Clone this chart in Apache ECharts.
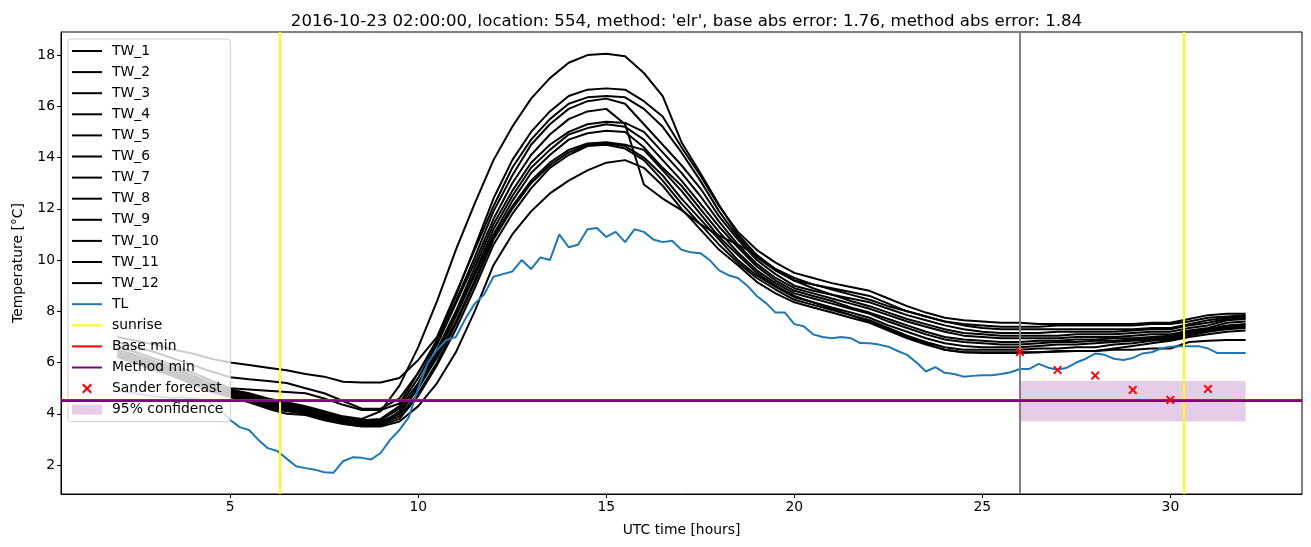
<!DOCTYPE html>
<html><head><meta charset="utf-8">
<script src="https://cdn.jsdelivr.net/npm/echarts@6/dist/echarts.min.js"></script>
<style>html,body{margin:0;padding:0;background:#fff}#c{width:1311px;height:547px}</style>
</head><body><div id="c"></div>
<script>
const titleText = "2016-10-23 02:00:00, location: 554, method: 'elr', base abs error: 1.76, method abs error: 1.84";
const xTicks = [5, 10, 15, 20, 25, 30];
const yTicks = [2, 4, 6, 8, 10, 12, 14, 16, 18];

// TW series sampled every 0.5 h from 2 h to 32 h
const twStart = 2, twStep = 0.5;
const tw1 = [6.5,6.3,6.05,5.8,5.5,5.2,4.95,4.8,4.6,4.45,4.3,4.1,3.9,3.8,4.1,5.1,
  6.6,8.4,10.4,12.2,13.9,15.2,16.3,17.1,17.7,18.0,18.05,17.95,
  17.3,16.4,14.6,13.4,12.15,11.0,10.2,9.65,9.3,
  9.05,8.85,8.65,8.45,8.2,8.0,7.8,7.6,7.5,7.45,7.4,7.4,7.4,7.45,7.45,7.45,7.45,7.45,7.5,7.5,7.6,7.75,7.8,7.85];
const tw2 = [6.6,6.4,6.15,5.9,5.6,5.3,5.0,4.95,4.9,4.85,4.8,4.6,4.35,4.15,4.15,4.4,
  5.6,6.9,8.6,10.5,12.4,13.9,15.0,15.8,16.4,16.65,16.7,16.65,
  16.2,15.6,14.4,13.3,12.1,11.1,10.4,9.9,9.5,
  9.3,9.1,8.95,8.8,8.5,8.2,7.95,7.75,7.65,7.6,7.55,7.55,7.5,7.5,7.5,7.5,7.5,7.5,7.55,7.55,7.7,7.85,7.9,7.9];
const tw3 = [7.0,6.85,6.7,6.5,6.35,6.15,6.0,5.9,5.8,5.7,5.55,5.45,5.25,5.22,5.22,5.4,
  6.1,7.0,8.7,10.4,12.1,13.6,14.7,15.5,16.1,16.35,16.4,16.35,
  15.9,15.2,14.2,13.1,11.9,10.9,10.1,9.6,9.2,
  9.05,8.9,8.75,8.6,8.3,8.0,7.8,7.6,7.45,7.35,7.3,7.3,7.3,7.3,7.3,7.3,7.3,7.3,7.35,7.35,7.5,7.65,7.75,7.8];
const tw4 = [6.8,6.6,6.4,6.15,5.9,5.65,5.43,5.35,5.28,5.2,5.0,4.8,4.5,4.2,4.2,4.6,
  5.6,6.8,8.4,10.1,11.9,13.3,14.5,15.3,15.9,16.2,16.3,16.1,
  15.3,14.5,13.7,12.8,11.7,10.8,10.0,9.45,9.0,
  8.8,8.65,8.5,8.35,8.1,7.85,7.65,7.45,7.3,7.2,7.15,7.15,7.15,7.2,7.2,7.2,7.2,7.25,7.3,7.3,7.45,7.55,7.7,7.75];
const tw5 = [6.45,6.25,6.0,5.75,5.45,5.15,4.9,4.75,4.55,4.4,4.25,4.05,3.85,3.75,3.8,4.3,
  5.4,6.7,8.3,9.9,11.6,13.0,14.1,14.9,15.5,15.8,15.9,15.3,
  12.95,12.4,11.95,11.4,10.95,10.6,10.2,9.6,9.2,
  8.9,8.65,8.4,8.2,7.95,7.7,7.5,7.3,7.15,7.1,7.05,7.05,7.05,7.05,7.1,7.1,7.1,7.15,7.2,7.2,7.35,7.45,7.65,7.7];
const tw6 = [6.4,6.2,5.95,5.7,5.4,5.1,4.85,4.7,4.5,4.35,4.2,4.0,3.8,3.7,3.75,4.2,
  5.2,6.5,8.0,9.7,11.4,12.7,13.8,14.5,15.0,15.3,15.4,15.35,
  15.0,14.2,13.4,12.5,11.5,10.6,9.85,9.3,8.9,
  8.7,8.5,8.3,8.1,7.85,7.6,7.4,7.2,7.05,7.0,6.95,6.95,6.95,6.95,7.0,7.0,7.0,7.05,7.1,7.1,7.25,7.35,7.55,7.6];
const tw7 = [6.35,6.15,5.9,5.65,5.35,5.05,4.8,4.65,4.45,4.3,4.15,3.95,3.75,3.65,3.7,4.0,
  5.1,6.4,7.9,9.5,11.2,12.5,13.6,14.3,14.9,15.15,15.3,15.2,
  14.7,13.9,13.1,12.2,11.3,10.5,9.75,9.2,8.8,
  8.6,8.4,8.15,7.95,7.7,7.45,7.2,7.0,6.9,6.85,6.8,6.8,6.85,6.85,6.9,6.9,6.95,6.95,7.0,7.05,7.2,7.3,7.45,7.5];
const tw8 = [6.3,6.1,5.85,5.6,5.3,5.0,4.75,4.6,4.4,4.25,4.1,3.9,3.7,3.6,3.65,4.0,
  5.0,6.3,7.8,9.4,11.0,12.3,13.4,14.1,14.7,14.95,15.05,15.0,
  14.4,13.6,12.9,12.0,11.1,10.3,9.6,9.1,8.7,
  8.5,8.3,8.1,7.9,7.6,7.35,7.1,6.9,6.8,6.75,6.7,6.7,6.75,6.8,6.8,6.85,6.85,6.9,6.95,7.0,7.15,7.3,7.4,7.45];
const tw9 = [6.3,6.05,5.8,5.55,5.25,4.95,4.7,4.55,4.3,4.15,4.05,3.85,3.65,3.55,3.6,3.9,
  4.8,6.0,7.5,9.1,10.8,12.0,13.0,13.7,14.2,14.5,14.55,14.45,
  14.0,13.3,12.4,11.6,10.8,10.0,9.4,8.95,8.55,
  8.35,8.15,7.95,7.75,7.45,7.2,6.95,6.75,6.65,6.6,6.6,6.6,6.65,6.7,6.7,6.75,6.8,6.85,6.9,6.95,7.1,7.25,7.35,7.4];
const tw10 = [6.25,6.0,5.75,5.5,5.2,4.9,4.68,4.5,4.25,4.1,4.0,3.8,3.62,3.52,3.55,3.8,
  4.7,5.9,7.3,8.9,10.6,11.8,12.8,13.6,14.1,14.45,14.5,14.35,
  13.9,13.1,12.2,11.4,10.6,9.9,9.3,8.85,8.45,
  8.25,8.05,7.85,7.65,7.35,7.05,6.8,6.6,6.5,6.5,6.5,6.5,6.55,6.55,6.6,6.6,6.7,6.75,6.85,6.9,7.05,7.2,7.3,7.35];
const tw11 = [6.2,5.95,5.7,5.45,5.15,4.85,4.65,4.45,4.2,4.0,3.95,3.75,3.6,3.5,3.5,3.7,
  4.3,5.2,6.4,8.0,9.8,11.0,11.9,12.6,13.1,13.5,13.8,13.9,
  13.6,12.9,12.0,11.2,10.4,9.8,9.15,8.7,8.35,
  8.15,7.95,7.75,7.55,7.25,6.95,6.7,6.5,6.4,6.4,6.4,6.4,6.4,6.45,6.45,6.45,6.55,6.65,6.75,6.85,7.0,7.1,7.2,7.25];
const tw12 = [6.35,6.1,5.85,5.6,5.3,5.0,4.72,4.58,4.35,4.2,4.08,3.88,3.68,3.58,3.62,4.1,
  5.0,6.2,7.6,9.2,10.9,12.1,13.1,13.8,14.3,14.55,14.6,14.5,
  14.3,13.5,12.7,11.8,10.9,10.2,9.5,9.0,8.6,
  8.35,8.1,7.85,7.6,7.3,7.0,6.75,6.5,6.4,6.37,6.37,6.37,6.4,6.42,6.45,6.45,6.5,6.5,6.55,6.55,6.8,6.85,6.88,6.88];

// TL sampled every 0.25 h from 2 h to 32 h
const tlStart = 2, tlStep = 0.25;
const tl = [4.90,4.85,4.80,4.72,4.68,4.65,4.62,4.65,4.60,4.55,4.40,4.15,
  3.76,3.48,3.37,2.98,2.66,2.55,2.25,1.95,1.88,1.82,1.72,1.70,
  2.15,2.30,2.28,2.22,2.47,2.98,3.37,3.87,5.00,5.98,6.50,6.88,
  7.00,7.70,8.30,8.65,9.35,9.45,9.55,10.00,9.65,10.10,10.00,11.00,
  10.50,10.60,11.20,11.25,10.90,11.10,10.70,11.20,11.10,10.80,10.70,10.75,
  10.40,10.30,10.27,10.00,9.60,9.41,9.30,9.00,8.60,8.32,7.95,7.95,
  7.50,7.42,7.10,7.00,6.95,7.00,6.95,6.76,6.75,6.70,6.62,6.45,
  6.30,6.00,5.65,5.82,5.60,5.55,5.45,5.48,5.50,5.50,5.55,5.62,
  5.75,5.75,5.95,5.80,5.72,5.80,6.00,6.15,6.35,6.30,6.15,6.10,
  6.18,6.35,6.40,6.55,6.62,6.64,6.64,6.64,6.55,6.37,6.37,6.37,6.37];

const sunriseHours = [6.33, 30.35];
const forecastStartHour = [26];
const baseMinTemp = [4.55];
const methodMinTemp = [4.52];
const forecastHours = [26, 27, 28, 29, 30, 31];
const forecastTemps = [6.41, 5.71, 5.49, 4.93, 4.54, 4.97];
const confHours = [26, 32];
const confTemps = [3.70, 5.28];

const twList = [tw1, tw2, tw3, tw4, tw5, tw6, tw7, tw8, tw9, tw10, tw11, tw12];
const series = [];
twList.forEach((arr, k) => {
  series.push({
    name: 'TW_' + (k + 1), type: 'line', symbol: 'none', color: '#000000',
    lineStyle: { color: '#000000', width: 2 }, z: 2,
    data: arr.map((v, i) => [twStart + i * twStep, v])
  });
});
series.push({
  name: 'TL', type: 'line', symbol: 'none', color: '#1f77b4',
  lineStyle: { color: '#1f77b4', width: 2 }, z: 3,
  data: tl.map((v, i) => [tlStart + i * tlStep, v])
});
const vline = (name, color, xs, z) => ({
  name, type: 'line', symbol: 'none', color, lineStyle: { color, width: 2 }, data: [], z,
  markLine: { silent: true, symbol: 'none', animation: false, label: { show: false },
    lineStyle: { color, width: 2, type: 'solid' }, data: xs.map(x => ({ xAxis: x })) }
});
const hline = (name, color, ys, z) => ({
  name, type: 'line', symbol: 'none', color, lineStyle: { color, width: 2 }, data: [], z,
  markLine: { silent: true, symbol: 'none', animation: false, label: { show: false },
    lineStyle: { color, width: 2, type: 'solid' }, data: ys.map(y => ({ yAxis: y })) }
});
series.push(vline('sunrise', '#ffff00', sunriseHours, 4));
series.push(vline('forecast start', '#808080', forecastStartHour, 4));
series.push(hline('Base min', '#ff0000', baseMinTemp, 5));
series.push(hline('Method min', '#800080', methodMinTemp, 6));
const xPath = 'path://M0,1.5 L1.5,0 L5,3.5 L8.5,0 L10,1.5 L6.5,5 L10,8.5 L8.5,10 L5,6.5 L1.5,10 L0,8.5 L3.5,5 Z';
series.push({
  name: 'Sander forecast', type: 'scatter', symbol: xPath, symbolSize: 9, color: '#ff0000',
  itemStyle: { color: '#ff0000', opacity: 1 }, z: 7,
  data: forecastHours.map((h, i) => [h, forecastTemps[i]])
});
series.push({
  name: '95% confidence', type: 'line', symbol: 'none', color: 'rgba(128,0,128,0.2)', data: [], z: 8,
  markArea: { silent: true, animation: false, itemStyle: { color: 'rgba(128,0,128,0.2)' },
    data: [[{ xAxis: confHours[0], yAxis: confTemps[0] }, { xAxis: confHours[1], yAxis: confTemps[1] }]] }
});

const legendNames = ['TW_1','TW_2','TW_3','TW_4','TW_5','TW_6','TW_7','TW_8','TW_9','TW_10','TW_11','TW_12',
  'TL','sunrise','Base min','Method min','Sander forecast','95% confidence'];
const lineIcon = 'path://M0,0 L30,0 L30,2 L0,2 Z';
const legendData = legendNames.map(n => {
  if (n === '95% confidence') return { name: n, icon: 'rect' };
  if (n === 'Sander forecast') return { name: n, icon: xPath, itemStyle: { opacity: 1 } };
  return { name: n, icon: lineIcon };
});

const font = 'DejaVu Sans';
const chart = echarts.init(document.getElementById('c'), null, { renderer: 'canvas' });
chart.setOption({
  animation: false,
  backgroundColor: '#ffffff',
  title: { text: titleText, left: 681.5, textAlign: 'center', top: 8,
    textStyle: { fontFamily: font, fontSize: 16.6, fontWeight: 'normal', color: '#000' } },
  grid: { left: 61, right: 9, top: 32, bottom: 53, show: true, borderColor: '#000', borderWidth: 1, containLabel: false },
  legend: {
    data: legendData, orient: 'vertical', left: 68, top: 39, padding: [4, 7, 4, 4],
    itemWidth: 30, itemHeight: 10, itemGap: 5.1, symbolKeepAspect: true,
    backgroundColor: 'rgba(255,255,255,0.8)', borderColor: '#cccccc', borderWidth: 1, borderRadius: 3,
    textStyle: { fontFamily: font, fontSize: 13.9, color: '#000', lineHeight: 16, padding: [0, 0, 0, 5] },
    selectedMode: false
  },
  xAxis: {
    type: 'value', min: 0.5, max: 33.5,
    name: 'UTC time [hours]', nameLocation: 'middle', nameGap: 29,
    nameTextStyle: { fontFamily: font, fontSize: 13.9, color: '#000' },
    axisLine: { show: true, lineStyle: { color: '#000', width: 1 } },
    axisTick: { show: true, length: 4, customValues: xTicks, lineStyle: { color: '#000' } },
    axisLabel: { customValues: xTicks, fontFamily: font, fontSize: 13.9, color: '#000', margin: 6 },
    splitLine: { show: false }
  },
  yAxis: {
    type: 'value', min: 0.87, max: 18.9,
    name: 'Temperature [°C]', nameLocation: 'middle', nameGap: 36,
    nameTextStyle: { fontFamily: font, fontSize: 13.9, color: '#000' },
    axisLine: { show: true, lineStyle: { color: '#000', width: 1 } },
    axisTick: { show: true, length: 4, customValues: yTicks, lineStyle: { color: '#000' } },
    axisLabel: { customValues: yTicks, fontFamily: font, fontSize: 13.9, color: '#000', margin: 6 },
    splitLine: { show: false }
  },
  series
});
</script></body></html>
